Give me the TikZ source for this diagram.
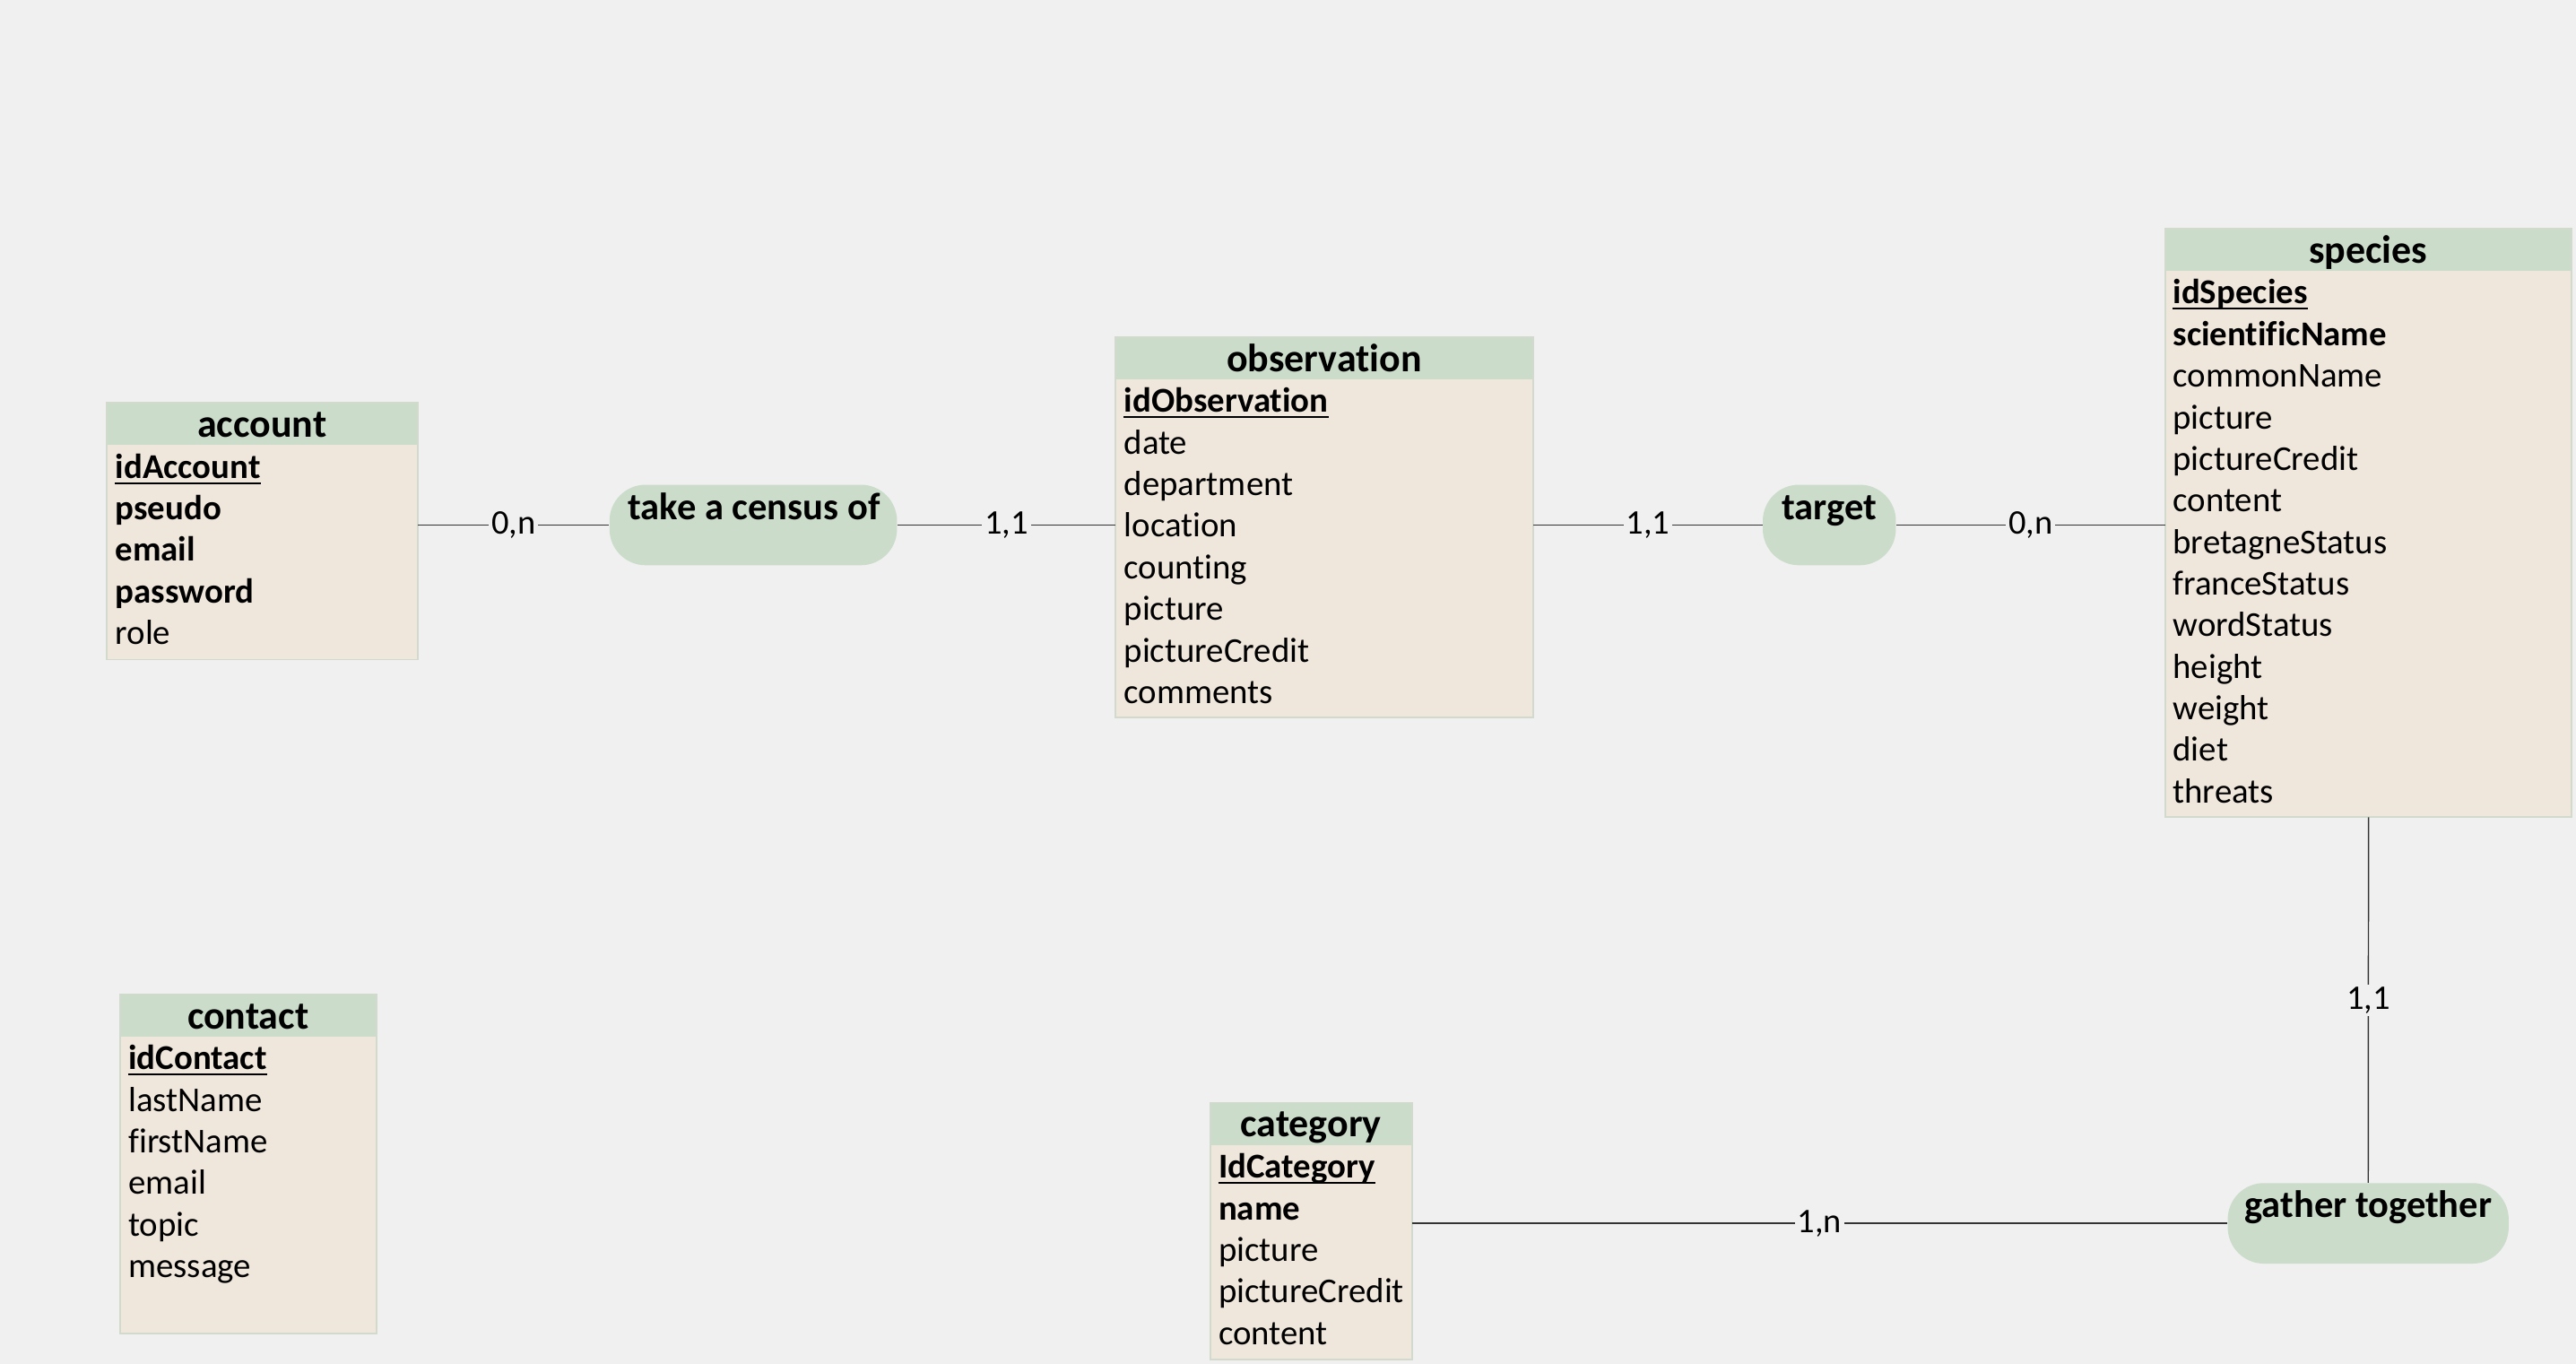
\documentclass[tikz,border=0pt]{standalone}
\usepackage{fontspec}
\setmainfont{Carlito}[Ligatures={NoCommon,NoRare,NoContextual}]
\definecolor{bgc}{HTML}{F0F0F0}
\definecolor{headc}{HTML}{CBDDCA}
\definecolor{bodyc}{HTML}{EFE7DB}
\definecolor{boxline}{HTML}{D2DACD}
\definecolor{linec}{HTML}{333333}
\begin{document}
\begin{tikzpicture}[x=1pt,y=-1pt,
  body/.style={fill=bodyc, anchor=north west, inner sep=0pt},
  head/.style={fill=headc, anchor=north west, inner sep=0pt, minimum height=25.5},
  outline/.style={draw=boxline, line width=1pt},
  ttl/.style={anchor=base, inner sep=0pt, font=\fontsize{24}{28}\selectfont\bfseries},
  attr/.style={anchor=base west, inner sep=0pt},
  uline/.style={draw=black, line width=1.1pt},
  rel/.style={fill=headc, rounded corners=22pt, minimum height=49, inner sep=0pt},
  reltext/.style={anchor=base, inner sep=0pt, font=\fontsize{23.2}{27}\selectfont\bfseries},
  link/.style={draw=linec, line width=0.8pt},
  card/.style={fill=bgc, inner sep=1.5pt, font=\fontsize{21}{25}\selectfont}
]
\fill[bgc] (0,0) rectangle (1568,830);

% ---------- account ----------
\node[body, minimum width=189, minimum height=156] (acc) at (65,245) {};
\node[head, minimum width=189] (acch) at (65,245) {};
\draw[outline] (acc.north west) rectangle (acc.south east);
\node[ttl] (acct) at (159.5,266) {account};
\foreach \f/\t [count=\i from 0] in {\bfseries/idAccount,\bfseries/pseudo,\bfseries/email,\bfseries/password,\mdseries/role}
  \node[attr, font={\fontsize{21.2}{25}\selectfont\f}] (acc-\i) at (70,{291+\i*25.3}) {\t};
\draw[uline] ([yshift=-3pt]acc-0.base west) -- ([yshift=-3pt]acc-0.base east);

% ---------- observation ----------
\node[body, minimum width=254, minimum height=231] (obs) at (679,205) {};
\node[head, minimum width=254] (obsh) at (679,205) {};
\draw[outline] (obs.north west) rectangle (obs.south east);
\node[ttl] (obst) at (806,226) {observation};
\foreach \f/\t [count=\i from 0] in {\bfseries/idObservation,\mdseries/date,\mdseries/department,\mdseries/location,\mdseries/counting,\mdseries/picture,\mdseries/pictureCredit,\mdseries/comments}
  \node[attr, font={\fontsize{21.2}{25}\selectfont\f}] (obs-\i) at (684,{251+\i*25.3}) {\t};
\draw[uline] ([yshift=-3pt]obs-0.base west) -- ([yshift=-3pt]obs-0.base east);

% ---------- species ----------
\node[body, minimum width=247, minimum height=358] (spc) at (1318,139) {};
\node[head, minimum width=247] (spch) at (1318,139) {};
\draw[outline] (spc.north west) rectangle (spc.south east);
\node[ttl] (spct) at (1441.5,160) {species};
\foreach \f/\t [count=\i from 0] in {\bfseries/idSpecies,\bfseries/scientificName,\mdseries/commonName,\mdseries/picture,\mdseries/pictureCredit,\mdseries/content,\mdseries/bretagneStatus,\mdseries/franceStatus,\mdseries/wordStatus,\mdseries/height,\mdseries/weight,\mdseries/diet,\mdseries/threats}
  \node[attr, font={\fontsize{21.2}{25}\selectfont\f}] (spc-\i) at (1322.5,{185+\i*25.3}) {\t};
\draw[uline] ([yshift=-3pt]spc-0.base west) -- ([yshift=-3pt]spc-0.base east);

% ---------- contact ----------
\node[body, minimum width=156, minimum height=206] (con) at (73,605) {};
\node[head, minimum width=156] (conh) at (73,605) {};
\draw[outline] (con.north west) rectangle (con.south east);
\node[ttl] (cont) at (151,626) {contact};
\foreach \f/\t [count=\i from 0] in {\bfseries/idContact,\mdseries/lastName,\mdseries/firstName,\mdseries/email,\mdseries/topic,\mdseries/message}
  \node[attr, font={\fontsize{21.2}{25}\selectfont\f}] (con-\i) at (78,{651+\i*25.3}) {\t};
\draw[uline] ([yshift=-3pt]con-0.base west) -- ([yshift=-3pt]con-0.base east);

% ---------- category ----------
\node[body, minimum width=122, minimum height=156] (cat) at (737,671) {};
\node[head, minimum width=122] (cath) at (737,671) {};
\draw[outline] (cat.north west) rectangle (cat.south east);
\node[ttl] (catt) at (798,692) {category};
\foreach \f/\t [count=\i from 0] in {\bfseries/IdCategory,\bfseries/name,\mdseries/picture,\mdseries/pictureCredit,\mdseries/content}
  \node[attr, font={\fontsize{21.2}{25}\selectfont\f}] (cat-\i) at (741.5,{717+\i*25.3}) {\t};
\draw[uline] ([yshift=-3pt]cat-0.base west) -- ([yshift=-3pt]cat-0.base east);

% ---------- relations ----------
\node[rel, minimum width=175] (census) at (458.5,319.5) {};
\node[reltext] (census-t) at (459,316) {take a census of};
\node[rel, minimum width=81] (target) at (1113.5,319.5) {};
\node[reltext] (target-t) at (1113.5,316) {target};
\node[rel, minimum width=171] (gather) at (1441.5,744.5) {};
\node[reltext] (gather-t) at (1441.5,741) {gather together};

% ---------- connectors ----------
\draw[link] (census.west -| acc.east) -- node[card] (c1) {0,n} (census.west);
\draw[link] (census.east) -- node[card] (c2) {1,1} (census.east -| obs.west);
\draw[link] (target.west -| obs.east) -- node[card] (c3) {1,1} (target.west);
\draw[link] (target.east) -- node[card] (c4) {0,n} (target.east -| spc.west);
\draw[link] (spc.south) -- node[card] (c5) {1,1} (gather.north);
\draw[link] (gather.west -| cat.east) -- node[card] (c6) {1,n} (gather.west);
\end{tikzpicture}
\end{document}
